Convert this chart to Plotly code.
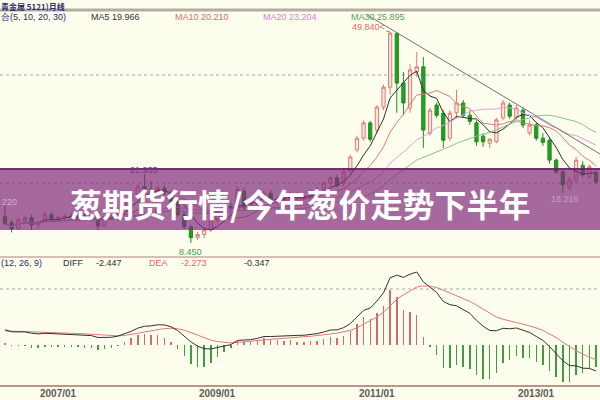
import plotly.graph_objects as go
import pandas as pd
import numpy as np

# ---------------- data (monthly, 2006/05 .. 2013/10) ----------------
months = pd.date_range("2006-05-01", periods=90, freq="MS").strftime("%Y/%m").tolist()

opens = [13.6, 12.4, 11.3, 12.8, 13.4, 12.0, 12.6, 14.0, 13.2, 13.5,
         13.7, 13.4, 13.8, 13.2, 13.5, 11.8, 13.6, 14.0, 15.2, 16.8,
         18.0, 19.5, 19.0, 18.0, 19.2, 18.2, 16.6, 14.0, 11.6, 9.5,
         10.1, 11.0, 13.0, 14.6, 15.6, 15.0, 18.6, 15.4, 16.2, 17.0,
         18.2, 16.6, 17.2, 17.0, 18.0, 17.2, 17.6, 18.5, 19.0, 20.2,
         21.2, 20.2, 22.6, 26.7, 29.0, 32.0, 30.6, 35.1, 39.0, 49.5,
         39.8, 34.9, 42.0, 43.0, 30.0, 35.5, 33.9, 29.0, 34.0, 35.9,
         33.5, 32.0, 29.4, 28.0, 28.3, 33.0, 35.5, 33.0, 34.5, 30.0,
         31.6, 29.0, 28.6, 24.7, 22.4, 19.4, 20.8, 23.7, 21.4, 22.2]
highs = [16.22, 13.0, 13.5, 13.6, 14.0, 12.8, 14.6, 14.5, 13.8, 14.2,
         14.3, 14.0, 14.6, 13.8, 14.0, 13.8, 14.2, 15.5, 17.0, 18.5,
         20.0, 21.935, 20.5, 19.8, 19.8, 18.8, 17.2, 14.6, 12.0, 10.6,
         11.5, 13.5, 15.0, 16.2, 16.4, 19.6, 19.2, 16.6, 17.6, 18.8,
         18.8, 17.6, 18.0, 18.6, 18.5, 18.0, 19.0, 19.5, 20.6, 21.6,
         21.8, 23.0, 25.8, 29.5, 32.5, 32.4, 35.5, 39.5, 49.84, 49.8,
         42.0, 43.5, 45.9, 44.9, 35.0, 36.0, 34.5, 34.5, 38.5, 36.5,
         34.5, 32.5, 30.0, 29.0, 33.0, 36.5, 36.0, 35.5, 35.0, 32.5,
         32.0, 30.0, 29.0, 25.0, 22.8, 21.5, 25.3, 24.5, 23.8, 22.8]
lows = [12.0, 10.5, 11.0, 12.2, 11.0, 11.2, 12.4, 12.8, 12.8, 13.0,
        13.2, 12.8, 13.0, 12.6, 11.0, 11.6, 13.2, 13.8, 15.0, 16.2,
        17.5, 18.8, 17.5, 17.6, 17.8, 16.2, 13.6, 11.2, 8.45, 9.0,
        9.4, 10.6, 12.5, 14.0, 14.6, 14.8, 14.8, 15.0, 15.6, 16.6,
        16.0, 15.8, 16.5, 16.8, 16.8, 16.8, 17.2, 18.0, 18.5, 19.5,
        19.4, 19.6, 22.2, 26.2, 28.5, 28.3, 30.0, 34.5, 37.5, 34.0,
        33.5, 34.0, 41.0, 27.1, 29.5, 33.0, 27.1, 28.5, 33.0, 33.0,
        31.6, 27.5, 27.3, 27.0, 28.0, 32.5, 32.8, 32.5, 31.0, 29.5,
        28.5, 27.5, 24.0, 22.0, 18.216, 18.8, 20.2, 21.3, 21.0, 20.0]
closes = [12.2, 11.2, 13.0, 13.4, 12.0, 12.5, 14.0, 13.2, 13.5, 13.7,
          13.4, 13.8, 13.2, 13.5, 11.8, 13.6, 14.0, 15.2, 16.8, 18.0,
          19.5, 19.0, 18.0, 19.2, 18.2, 16.6, 14.0, 11.6, 9.5, 10.1,
          11.0, 13.0, 14.6, 15.6, 15.2, 19.0, 15.4, 16.2, 17.0, 18.2,
          16.6, 17.2, 17.0, 18.0, 17.2, 17.6, 18.5, 19.0, 20.2, 21.2,
          19.8, 22.4, 25.3, 29.0, 32.0, 28.8, 35.1, 39.0, 49.6, 39.8,
          35.9, 42.4, 43.0, 30.6, 34.5, 33.5, 28.6, 33.9, 35.9, 33.5,
          32.3, 28.3, 28.3, 28.8, 32.6, 35.9, 33.3, 34.9, 31.6, 31.6,
          29.0, 28.2, 24.7, 22.4, 19.9, 20.8, 24.7, 21.8, 23.4, 20.4]

ma_periods = [5, 10, 20, 30]
ma_labels = ["MA5 19.966", "MA10 20.210", "MA20 23.204", "MA30 25.895"]
macd_seed_diff = 1.4     # DIFF at left edge
macd_seed_dea = 1.3      # DEA at left edge
macd_texts = ["(12, 26, 9)", "DIFF", "-2.447", "DEA", "-2.273", "-0.347"]
tick_labels = ["2007/01", "2009/01", "2011/01", "2013/01"]
price_grid = [20.2, 41.4]
trend_idx = [54.5, 89.6]
trend_val = [53.2, 25.9]
title_text = "葱期货行情/今年葱价走势下半年"

# ---------------- derived indicators ----------------
x = list(range(len(months)))
cs = pd.Series(closes)
mas = [cs.rolling(p, min_periods=1).mean() for p in ma_periods]

e12 = closes[0]
e26 = closes[0] - macd_seed_diff
dea = macd_seed_dea
a12, a26, a9 = 2 / 13, 2 / 27, 2 / 10
diff_l, dea_l = [], []
for i, c in enumerate(closes):
    if i > 0:
        e12 = a12 * c + (1 - a12) * e12
        e26 = a26 * c + (1 - a26) * e26
    d = e12 - e26
    if i > 0:
        dea = a9 * d + (1 - a9) * dea
    diff_l.append(d)
    dea_l.append(dea)
hist = [2 * (d - e) for d, e in zip(diff_l, dea_l)]

BG = "#FEFEEE"
W, H = 600, 400


def py(pix):  # pixel row -> paper y
    return 1 - pix / H


def px(pix):
    return pix / W


fig = go.Figure()

fig.add_trace(go.Candlestick(
    x=x, open=opens, high=highs, low=lows, close=closes,
    xaxis="x", yaxis="y",
    increasing=dict(line=dict(color="#E07A72", width=1), fillcolor="#FBE6DE"),
    decreasing=dict(line=dict(color="#1E8E1E", width=1), fillcolor="#22A022"),
    whiskerwidth=0, hoverinfo="skip"))

ma_colors = ["#2A2A2A", "#E07A72", "#DDA0E0", "#86C486"]
for m, col in zip(mas, ma_colors):
    fig.add_trace(go.Scatter(x=x, y=m, mode="lines", line=dict(color=col, width=1),
                             xaxis="x", yaxis="y", hoverinfo="skip"))

fig.add_trace(go.Scatter(x=trend_idx, y=trend_val, mode="lines",
                         line=dict(color="#707070", width=1), xaxis="x", yaxis="y",
                         hoverinfo="skip"))

bar_cols = ["#D46A6A" if h >= 0 else "#3E9E3E" for h in hist]
fig.add_trace(go.Bar(x=x, y=hist, marker=dict(color=bar_cols, line=dict(width=0)),
                     width=0.22, xaxis="x", yaxis="y2", hoverinfo="skip"))
fig.add_trace(go.Scatter(x=x, y=dea_l, mode="lines", line=dict(color="#E07A72", width=1),
                         xaxis="x", yaxis="y2", hoverinfo="skip"))
fig.add_trace(go.Scatter(x=x, y=diff_l, mode="lines", line=dict(color="#303030", width=1),
                         xaxis="x", yaxis="y2", hoverinfo="skip"))

# MACD axis: zero at row 345, DIFF peak near row 272, deepest value above row 384
peak = max(diff_l)
trough = -min(min(diff_l), min(hist))
scale = min(73 / peak, 38 / trough)
macd_top = (345 - 257) / scale
macd_bot = -(386 - 345) / scale
macd_grid = (345 - 289) / scale

fig.update_layout(
    width=W, height=H, margin=dict(l=0, r=0, t=0, b=0),
    paper_bgcolor=BG, plot_bgcolor=BG, showlegend=False, bargap=0,
    xaxis=dict(range=[-0.75, 89.6], visible=False, rangeslider=dict(visible=False),
               anchor="y2", fixedrange=True),
    yaxis=dict(domain=[py(257), py(10)], range=[5.70, 54.14], visible=False),
    yaxis2=dict(domain=[py(386), py(257)], range=[macd_bot, macd_top], visible=False),
)

shapes = []
for g in price_grid:
    shapes.append(dict(type="line", xref="paper", x0=0, x1=1, yref="y", y0=g, y1=g,
                       line=dict(color="#A8A8A0", width=1, dash="3px,3px"), layer="below"))
shapes.append(dict(type="line", xref="paper", x0=0, x1=1, yref="y2", y0=macd_grid, y1=macd_grid,
                   line=dict(color="#A8A8A0", width=1, dash="3px,3px"), layer="below"))
# panel borders
shapes.append(dict(type="line", xref="paper", yref="paper", x0=0, x1=1, y0=py(10), y1=py(10),
                   line=dict(color="#B4ACA4", width=3)))
shapes.append(dict(type="line", xref="paper", yref="paper", x0=0, x1=1, y0=py(257), y1=py(257),
                   line=dict(color="#CDA8A0", width=1.5)))
shapes.append(dict(type="line", xref="paper", yref="paper", x0=0, x1=1, y0=py(386), y1=py(386),
                   line=dict(color="#C49088", width=2)))
# banner
shapes.append(dict(type="rect", xref="paper", yref="paper", x0=0, x1=1, y0=py(230), y1=py(168),
                   fillcolor="rgba(128,42,122,0.70)", line=dict(width=0), layer="above"))
shapes.append(dict(type="line", xref="paper", yref="paper", x0=0, x1=1, y0=py(169), y1=py(169),
                   line=dict(color="rgba(105,28,100,0.8)", width=2), layer="above"))
fig.update_layout(shapes=shapes)

ann = []
SMALL = "Liberation Sans"
CJK = "Noto Sans CJK SC"


def text(xp, yp, t, color, size=9, family=SMALL, xanchor="left", yanchor="middle"):
    ann.append(dict(xref="paper", yref="paper", x=px(xp), y=py(yp), text=t, showarrow=False,
                    xanchor=xanchor, yanchor=yanchor, borderpad=0,
                    font=dict(color=color, size=size, family=family)))


# header
text(0, 0, "<b>青金属 5121)月线</b>", "#2A2A70", 8, CJK, yanchor="top")
text(0, 17, "合(5, 10, 20, 30)", "#2A2A70", 9)
leg_x = [90, 174, 262, 350]
leg_c = ["#303030", "#E06A62", "#E37BE3", "#4FA44F"]
for lx, lt, lc in zip(leg_x, ma_labels, leg_c):
    text(lx, 17, lt, lc, 9)

# price extreme labels
hi_i = int(np.argmax(highs))
ann.append(dict(x=hi_i, y=highs[hi_i], xref="x", yref="y", text="%.3f<" % highs[hi_i],
                showarrow=True, arrowhead=0, arrowwidth=1, arrowcolor="#909090",
                ax=-22, ay=-5, font=dict(color="#E06A62", size=9, family=SMALL)))
lo_i = int(np.argmin(lows))
ann.append(dict(x=lo_i, y=lows[lo_i], xref="x", yref="y", text="%.3f" % lows[lo_i],
                showarrow=False, yshift=-9, font=dict(color="#3E9E3E", size=9, family=SMALL)))
# labels below the translucent banner (muted)
i21 = highs.index(21.935)
ann.append(dict(x=i21, y=highs[i21], xref="x", yref="y", text="21.935", showarrow=False,
                yshift=4, font=dict(color="#7A3A78", size=9, family=SMALL)))
i18 = lows.index(18.216)
ann.append(dict(x=i18, y=lows[i18], xref="x", yref="y", text="18.216", showarrow=False,
                xshift=2, yshift=-6, font=dict(color="#C79BC4", size=9, family=SMALL)))
text(1, 202, "220", "#D2AED0", 9, SMALL)

# MACD header
mx = [0, 62, 95, 148, 180, 243]
mc = ["#2A2A70", "#303030", "#303030", "#E06A62", "#E06A62", "#303030"]
for xx, tt, cc in zip(mx, macd_texts, mc):
    text(xx, 263, tt, cc, 9)

# x labels
for lbl in tick_labels:
    i = months.index(lbl)
    ann.append(dict(x=i, xref="x", y=py(393), yref="paper", text="<b>%s</b>" % lbl,
                    showarrow=False, yanchor="middle",
                    font=dict(color="#5A5A5A", size=10, family=SMALL)))

# banner title
ann.append(dict(xref="paper", yref="paper", x=0.5, y=py(203), text="<b>%s</b>" % title_text,
                showarrow=False, xanchor="center", yanchor="middle",
                font=dict(color="#FFFFFF", size=32, family=CJK)))

fig.update_layout(annotations=ann)
fig.write_html("out.html", config={"displayModeBar": False, "staticPlot": True},
               post_script="document.body.style.margin='0';document.body.style.overflow='hidden';")
